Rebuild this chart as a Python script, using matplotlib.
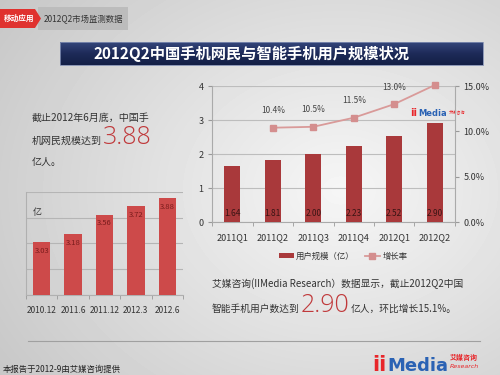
import numpy as np
import matplotlib
matplotlib.use('Agg')
import matplotlib.pyplot as plt
from matplotlib.patches import Rectangle, Polygon
from matplotlib.colors import LinearSegmentedColormap
from matplotlib.ticker import FixedLocator, NullFormatter

plt.rcParams['font.family'] = ['Noto Sans CJK SC', 'DejaVu Sans']

# ---------------- data ----------------
quarters = ['2011Q1', '2011Q2', '2011Q3', '2011Q4', '2012Q1', '2012Q2']
smart_users = [1.64, 1.81, 2.00, 2.23, 2.52, 2.90]          # 亿
growth_q = ['2011Q2', '2011Q3', '2011Q4', '2012Q1', '2012Q2']
growth = [10.4, 10.5, 11.5, 13.0, 15.1]                       # %
periods = ['2010.12', '2011.6', '2011.12', '2012.3', '2012.6']
mobile_users = [3.03, 3.18, 3.56, 3.72, 3.88]                 # 亿

W, H = 500, 375
fig = plt.figure(figsize=(5, 3.75), dpi=100)


def box(x, y, w, h):
    return [x / W, 1 - (y + h) / H, w / W, h / H]


# ---------------- background canvas (pixel coords) ----------------
bg = fig.add_axes([0, 0, 1, 1])
bg.set_xlim(0, W)
bg.set_ylim(H, 0)
bg.axis('off')
yy, xx = np.mgrid[0:H, 0:W]
d = np.sqrt(((xx - 340) / 380.0) ** 2 + ((yy - 190) / 300.0) ** 2)
shade = np.clip(0.965 - 0.17 * d, 0, 1)
bg.imshow(shade, cmap='gray', vmin=0, vmax=1, extent=[0, W, H, 0],
          aspect='auto', zorder=0, interpolation='bilinear')

# top-left tag
bg.add_patch(Rectangle((38, 7), 90, 23, facecolor='#bcbcbc', edgecolor='none', zorder=2))
bg.add_patch(Polygon([(0, 9), (35, 9), (41, 18.5), (35, 28), (0, 28)],
                     closed=True, facecolor='#e0322f', edgecolor='none', zorder=3))
bg.text(19, 18.5, '移动应用', color='white', fontsize=5.5, fontweight='bold',
        ha='center', va='center', zorder=4)
bg.text(44, 18.5, '2012Q2市场监测数据', color='#333333', fontsize=6,
        ha='left', va='center', zorder=4)

# title banner
navy = LinearSegmentedColormap.from_list('navy', ['#34467a', '#1d2a58', '#141f46'])
grad = np.linspace(0, 1, 50).reshape(-1, 1)
bg.imshow(grad, cmap=navy, extent=[60, 483, 65, 42], aspect='auto', zorder=2)
bg.add_patch(Rectangle((60, 42), 423, 23, facecolor='none', edgecolor='#7f8cb0',
                       lw=0.6, zorder=3))
bg.text(252, 53.5, '2012Q2中国手机网民与智能手机用户规模状况', color='white',
        fontsize=11, fontweight='bold', ha='center', va='center', zorder=4)

renderer = fig.canvas.get_renderer()


def run_text(x, y, parts):
    """Draw a sequence of (text, kwargs) pieces on one baseline."""
    cx = x
    for s, kw in parts:
        t = bg.text(cx, y, s, ha='left', va='baseline', zorder=5, **kw)
        bb = t.get_window_extent(renderer)
        cx = bb.x1 + 1
    return cx


small = dict(fontsize=7.2, color='#333333')
big = dict(fontsize=18, color='#c0393b', family=['Open Sans', 'DejaVu Sans'],
           fontweight='light')

bg.text(32, 121, '截止2012年6月底，中国手', ha='left', va='baseline', zorder=5, **small)
run_text(32, 144, [('机网民规模达到', small), ('3.88', big)])
bg.text(32, 165, '亿人。', ha='left', va='baseline', zorder=5, **small)

small2 = dict(fontsize=7, color='#333333')
bg.text(212, 287, '艾媒咨询(IIMedia Research）数据显示，截止2012Q2中国',
        ha='left', va='baseline', zorder=5, **small2)
run_text(212, 312, [('智能手机用户数达到', small2), ('2.90', big),
                    ('亿人，环比增长15.1%。', small2)])

# bottom line & footer
bg.plot([28, 480], [341, 341], color='#a0a0a0', lw=0.8, zorder=3)
bg.text(3, 369, '本报告于2012-9由艾媒咨询提供', fontsize=6, color='#222222',
        ha='left', va='center', zorder=5)

# logo
x_end = run_text(372, 371, [('ii', dict(fontsize=15, color='#e8262a', fontweight='bold',
                                        family=['DejaVu Sans'])),
                            ('Media', dict(fontsize=13, color='#2a62b4', fontweight='bold',
                                           family=['DejaVu Sans']))])
bg.text(x_end + 1, 360, '艾媒咨询', fontsize=5, color='#e8262a', fontweight='bold',
        ha='left', va='baseline', zorder=5)
bg.text(x_end + 1, 368, 'Research', fontsize=4.5, color='#e8262a', style='italic',
        ha='left', va='baseline', zorder=5, family=['DejaVu Sans'])

# small logo inside chart
x_end2 = run_text(410, 116, [('ii', dict(fontsize=7, color='#e8262a', fontweight='bold',
                                         family=['DejaVu Sans'])),
                             ('Media', dict(fontsize=6, color='#2a62b4', fontweight='bold',
                                            family=['DejaVu Sans']))])
bg.text(x_end2 + 1, 113, '艾媒咨询', fontsize=3, color='#e8262a',
        ha='left', va='baseline', zorder=5)

# ---------------- main chart ----------------
ax = fig.add_axes(box(212, 86, 243, 136))
ax.patch.set_alpha(0)
x = np.arange(len(quarters))
bar_color = '#a9393b'
bars = ax.bar(x, smart_users, width=0.4, color=bar_color, zorder=3, label='用户规模（亿）')
for xi, v in zip(x, smart_users):
    ax.text(xi, 0.26, f'{v:.2f}', ha='center', va='center', fontsize=6,
            color='#3a1414', zorder=4)
ax.set_xlim(-0.5, len(quarters) - 0.5)
ax.set_ylim(0, 4)
ax.set_yticks([0, 1, 2, 3, 4])
ax.set_xticks(x)
ax.set_xticklabels(quarters)
ax.xaxis.set_minor_locator(FixedLocator(np.arange(-0.5, len(quarters), 1)))
ax.tick_params(axis='x', which='major', length=0, labelsize=6.5, colors='#333333', pad=8)
ax.tick_params(axis='x', which='minor', length=3, color='#999999', direction='out')
ax.tick_params(axis='y', length=3, color='#999999', labelsize=6.5, labelcolor='#333333', pad=3)
ax.yaxis.grid(True, color='#bdbdbd', lw=0.8, zorder=0)
ax.set_axisbelow(True)
for s in ['top', 'right']:
    ax.spines[s].set_visible(False)
for s in ['left', 'bottom']:
    ax.spines[s].set_color('#aaaaaa')
    ax.spines[s].set_linewidth(0.8)

ax2 = ax.twinx()
gx = [quarters.index(q) for q in growth_q]
line, = ax2.plot(gx, growth, color='#d99a99', lw=1.3, marker='s', ms=4,
                 markerfacecolor='#d48e8e', markeredgecolor='#d48e8e', zorder=5,
                 label='增长率', clip_on=False)
for xi, v in zip(gx, growth):
    ax2.annotate(f'{v:.1f}%', (xi, v), xytext=(0, 9), textcoords='offset points',
                 ha='center', va='bottom', fontsize=6, color='#444444')
ax2.set_ylim(0, 15)
ax2.set_yticks([0, 5, 10, 15])
ax2.set_yticklabels([f'{t:.1f}%' for t in [0, 5, 10, 15]])
ax2.tick_params(axis='y', length=3, color='#999999', labelsize=6.5, labelcolor='#333333', pad=3)
for s in ['top', 'left', 'bottom']:
    ax2.spines[s].set_visible(False)
ax2.spines['right'].set_color('#aaaaaa')
ax2.spines['right'].set_linewidth(0.8)

fig.legend(handles=[bars, line], loc='center', bbox_to_anchor=(343 / W, 1 - 256 / H),
           ncol=2, frameon=False, fontsize=6, handlelength=1.8, handleheight=0.6,
           columnspacing=1.2, handletextpad=0.3, labelcolor='#333333')

# ---------------- small left chart ----------------
ax3 = fig.add_axes(box(26, 192, 157, 103))
ax3.patch.set_alpha(0)
px = np.arange(len(periods))
ax3.bar(px, mobile_users, width=0.55, color='#cd4a4a', zorder=3)
for xi, v in zip(px, mobile_users):
    ax3.text(xi, v - 0.17, f'{v:.2f}', ha='center', va='center', fontsize=5.5,
             color='#7a1c1c', zorder=4)
ax3.set_xlim(-0.5, len(periods) - 0.5)
ax3.set_ylim(2, 4)
ax3.set_yticks([2, 2.5, 3, 3.5, 4])
ax3.yaxis.set_major_formatter(NullFormatter())
ax3.tick_params(axis='y', length=0)
ax3.set_xticks(px)
ax3.set_xticklabels(periods)
ax3.xaxis.set_minor_locator(FixedLocator(np.arange(-0.5, len(periods), 1)))
ax3.tick_params(axis='x', which='major', length=0, labelsize=6, colors='#333333', pad=8)
ax3.tick_params(axis='x', which='minor', length=3, color='#999999', direction='out')
ax3.yaxis.grid(True, color='#b5b5b5', lw=0.8, zorder=0)
ax3.set_axisbelow(True)
for s in ['top', 'right']:
    ax3.spines[s].set_visible(False)
for s in ['left', 'bottom']:
    ax3.spines[s].set_color('#b0b0b0')
    ax3.spines[s].set_linewidth(0.8)
bg.text(33, 212, '亿', fontsize=6.5, color='#333333', ha='left', va='center', zorder=5)

fig.savefig('out.png', dpi=100)
